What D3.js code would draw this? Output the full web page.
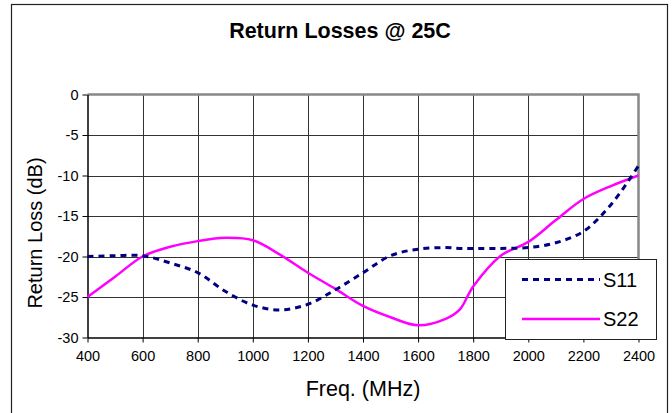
<!DOCTYPE html>
<html>
<head>
<meta charset="utf-8">
<script src="https://cdn.jsdelivr.net/npm/d3@7"></script>
<style>
  body { margin: 0; background: #fff; }
  text { font-family: Arial, "Liberation Sans", sans-serif; }
</style>
</head>
<body>
<div class="canvas"></div>
<script>
// data
const freqs = [400, 500, 600, 700, 800, 900, 1000, 1100, 1200, 1300, 1400,
               1500, 1600, 1700, 1750, 1800, 1900, 2000, 2100, 2200, 2300, 2400];
const s11 = [-20.0, -19.9, -19.9, -20.8, -22.0, -24.3, -26.0, -26.6, -25.9, -24.1, -22.0,
             -19.9, -19.1, -18.9, -19.0, -19.0, -19.0, -18.9, -18.3, -16.9, -13.6, -8.8];
const s22 = [-25.0, -22.5, -20.0, -18.8, -18.1, -17.7, -18.0, -19.8, -22.0, -24.0, -26.1,
             -27.5, -28.5, -27.7, -26.6, -23.7, -19.9, -18.2, -15.5, -12.9, -11.3, -10.0];
const xTicks = [400, 600, 800, 1000, 1200, 1400, 1600, 1800, 2000, 2200, 2400];
const yTicks = [0, -5, -10, -15, -20, -25, -30];

const dims = { width: 672, height: 413 };
const plot = { left: 87.5, right: 638.5, top: 94.5, bottom: 337.5 };

const svg = d3.select('.canvas')
    .append('svg')
    .attr('width', dims.width)
    .attr('height', dims.height);

// outer chart frame
svg.append('rect')
    .attr('x', 11.5).attr('y', 4.5)
    .attr('width', 656).attr('height', 420)
    .attr('fill', '#fff')
    .attr('stroke', '#222')
    .attr('stroke-width', 1.2);

const x = d3.scaleLinear().domain([400, 2400]).range([plot.left, plot.right]);
const y = d3.scaleLinear().domain([-30, 0]).range([plot.bottom, plot.top]);

// gridlines
const grid = svg.append('g');
grid.selectAll('.vg')
    .data(xTicks.slice(1, -1))
    .enter().append('line')
      .attr('x1', d => Math.round(x(d)) + 0.5).attr('x2', d => Math.round(x(d)) + 0.5)
      .attr('y1', plot.top).attr('y2', plot.bottom)
      .attr('stroke', '#333').attr('stroke-width', 1);
grid.selectAll('.hg')
    .data(yTicks.slice(1, -1))
    .enter().append('line')
      .attr('x1', plot.left).attr('x2', plot.right)
      .attr('y1', d => Math.round(y(d)) + 0.5).attr('y2', d => Math.round(y(d)) + 0.5)
      .attr('stroke', '#333').attr('stroke-width', 1);

// gray top/right frame of plot area
svg.append('path')
    .attr('d', `M${plot.left},${plot.top}H${plot.right}V${plot.bottom}`)
    .attr('fill', 'none')
    .attr('stroke', '#888')
    .attr('stroke-width', 2.5);

// axes
const fmt = d => String(d);
const xAxis = d3.axisBottom(x).tickValues(xTicks).tickFormat(fmt).tickSize(5).tickSizeOuter(0);
const yAxis = d3.axisLeft(y).tickValues(yTicks).tickFormat(fmt).tickSize(5).tickSizeOuter(0);

const gx = svg.append('g')
    .attr('transform', `translate(0,${plot.bottom})`)
    .call(xAxis);
const gy = svg.append('g')
    .attr('transform', `translate(${plot.left},0)`)
    .call(yAxis);

[gx, gy].forEach(g => {
    g.attr('font-family', 'Arial, "Liberation Sans", sans-serif').attr('font-size', 14.5);
    g.select('.domain').attr('stroke', '#000').attr('stroke-width', 1.5);
    g.selectAll('.tick line').attr('stroke', '#000');
    g.selectAll('.tick text').attr('fill', '#000');
});
gx.selectAll('.tick text').attr('dy', '1.1em');
gy.selectAll('.tick text').attr('x', -9);

// lines
const line = d3.line()
    .x(d => x(d[0]))
    .y(d => y(d[1]))
    .curve(d3.curveCatmullRom.alpha(0.5));

svg.append('path')
    .datum(d3.zip(freqs, s22))
    .attr('d', line)
    .attr('fill', 'none')
    .attr('stroke', '#ff00ff')
    .attr('stroke-width', 2.5);

svg.append('path')
    .datum(d3.zip(freqs, s11))
    .attr('d', line)
    .attr('fill', 'none')
    .attr('stroke', '#000080')
    .attr('stroke-width', 3)
    .attr('stroke-dasharray', '6,5');

// titles
svg.append('text')
    .attr('x', 340).attr('y', 38)
    .attr('text-anchor', 'middle')
    .attr('font-size', 21.5)
    .attr('font-weight', 'bold')
    .text('Return Losses @ 25C');

svg.append('text')
    .attr('transform', `translate(42,${(plot.top + plot.bottom) / 2 + 17}) rotate(-90)`)
    .attr('text-anchor', 'middle')
    .attr('font-size', 20)
    .text('Return Loss (dB)');

svg.append('text')
    .attr('x', 363).attr('y', 396)
    .attr('text-anchor', 'middle')
    .attr('font-size', 21.5)
    .text('Freq. (MHz)');

// legend
const legend = svg.append('g');
legend.append('rect')
    .attr('x', 505.5).attr('y', 259.5)
    .attr('width', 151).attr('height', 80)
    .attr('fill', '#fff')
    .attr('stroke', '#222')
    .attr('stroke-width', 1);

const legendItems = [
    { name: 'S11', color: '#000080', width: 3, dash: '6,5', y: 279.5 },
    { name: 'S22', color: '#ff00ff', width: 2.5, dash: null, y: 319 }
];
legendItems.forEach(d => {
    legend.append('line')
        .attr('x1', 522).attr('x2', 600)
        .attr('y1', d.y).attr('y2', d.y)
        .attr('stroke', d.color)
        .attr('stroke-width', d.width)
        .attr('stroke-dasharray', d.dash);
    legend.append('text')
        .attr('x', 603).attr('y', d.y + 7)
        .attr('font-size', 20)
        .text(d.name);
});
</script>
</body>
</html>
